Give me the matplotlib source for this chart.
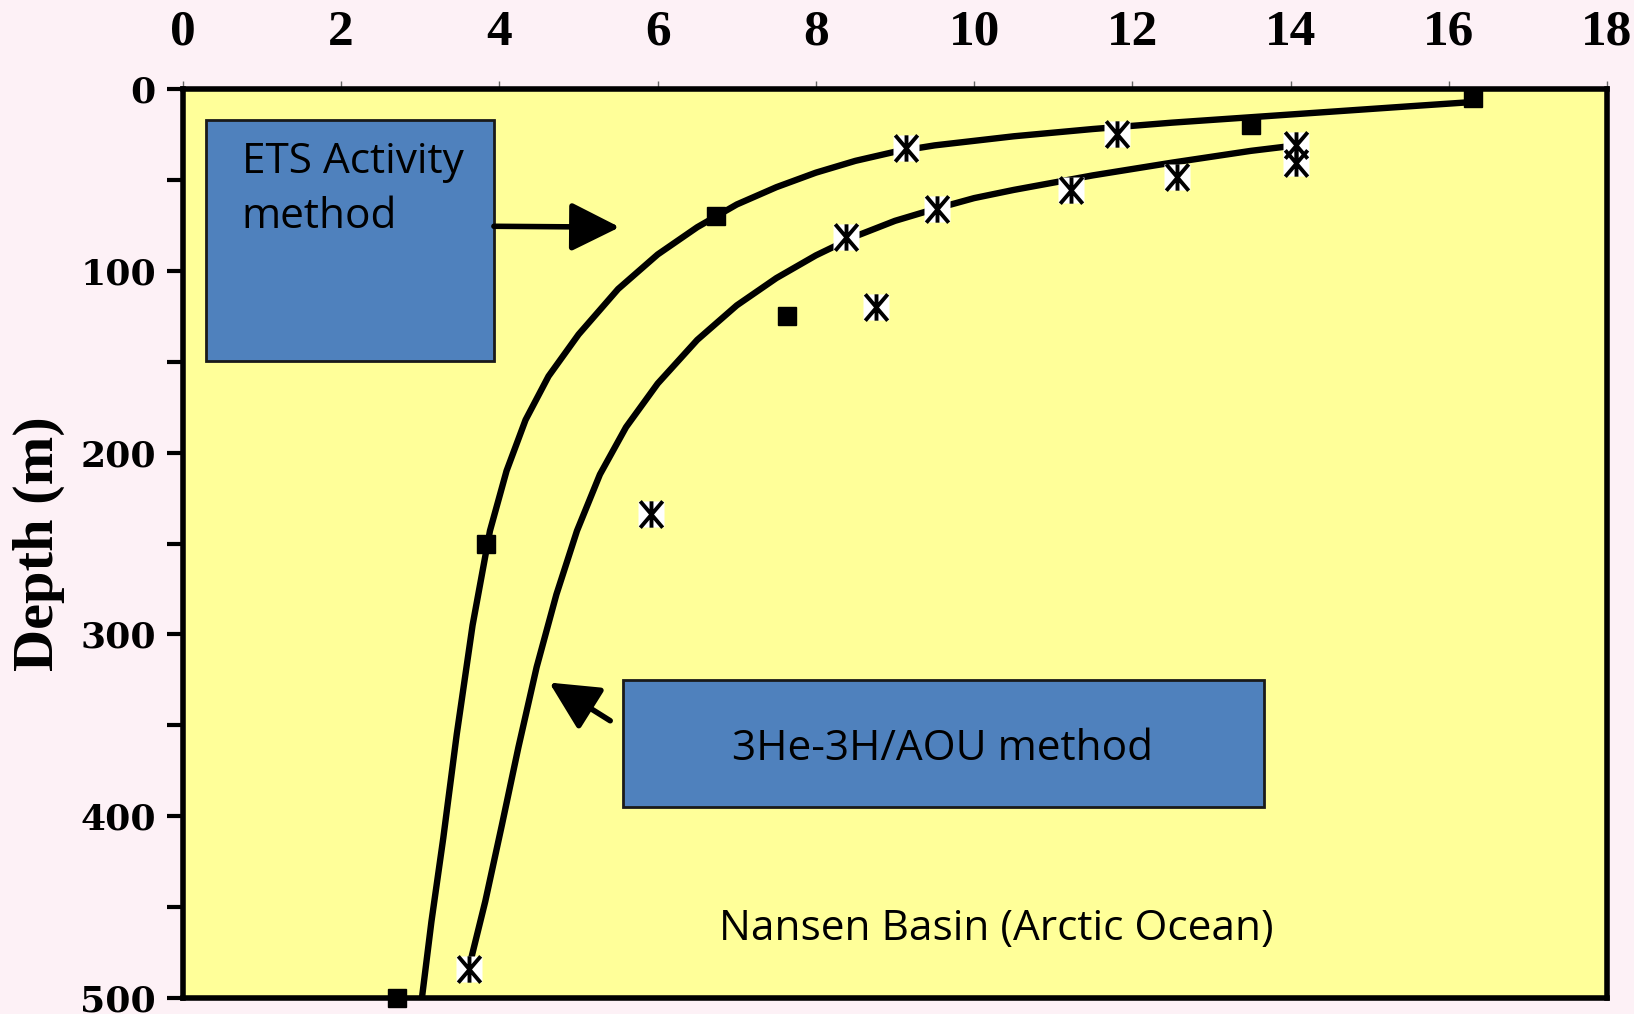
import numpy as np
import matplotlib
matplotlib.use("Agg")
import matplotlib.pyplot as plt
from matplotlib.path import Path
from matplotlib.patches import Rectangle
from matplotlib.ticker import MultipleLocator

# ETS activity method (squares)
ets_x = [16.3, 13.5, 6.74, 7.64, 3.83, 2.70]
ets_depth = [5, 20, 70, 125, 250, 500]

# 3He-3H/AOU method (asterisks)
he_x = [9.14, 11.81, 14.07, 14.07, 12.56, 11.23, 9.53, 8.38, 8.76, 5.91, 3.61]
he_depth = [32.5, 24.5, 31, 40.5, 48.5, 55.5, 66, 81.5, 120, 234, 484]

# fitted curves
ets_fit_x = [16.35, 15.5, 14.5, 13.5, 12.5, 11.5, 10.5, 9.5, 9.0, 8.5, 8.0,
             7.5, 7.0, 6.5, 6.0, 5.5, 5.0, 4.62, 4.33, 4.09, 3.88, 3.66, 3.46,
             3.29, 3.14, 3.02]
ets_fit_depth = [7, 9.5, 12.5, 15.5, 18.5, 22, 26, 31, 34.5, 39.5, 46,
                 54, 63.5, 76, 91, 110, 135, 158, 182, 210, 243, 295, 355,
                 412, 458, 500]

he_fit_x = [14.07, 13.5, 12.5, 11.5, 10.5, 10.0, 9.5, 9.0, 8.5, 8.0, 7.5,
            7.0, 6.5, 6.0, 5.6, 5.27, 4.98, 4.72, 4.47, 4.24, 4.03, 3.82, 3.61]
he_fit_depth = [31, 34, 40.5, 47.5, 55.5, 60, 66, 72.5, 81, 91.5, 104,
                119, 138, 162, 186, 212, 243, 278, 318, 362, 405, 447, 484]

x_ticks = [0, 2, 4, 6, 8, 10, 12, 14, 16, 18]
depth_ticks = [0, 100, 200, 300, 400, 500]

bg = '#FDF1F6'
yellow = '#FFFF99'
blue = '#4F81BD'

fig = plt.figure(figsize=(16.34, 10.14), dpi=100, facecolor=bg)
ax = fig.add_axes([0.112, 0.0158, 0.8715, 0.8964])
ax.set_facecolor(yellow)

# curves
ax.plot(ets_fit_x, ets_fit_depth, color='black', lw=4.6, zorder=2,
        solid_capstyle='butt', solid_joinstyle='round')
ax.plot(he_fit_x, he_fit_depth, color='black', lw=4.6, zorder=2,
        solid_capstyle='butt', solid_joinstyle='round')

# markers
ax.plot(ets_x, ets_depth, ls='none', marker='s', ms=13.5, color='black',
        zorder=4, clip_on=False)

star = Path([(-0.85, -1), (0.85, 1), (-0.85, 1), (0.85, -1), (0, -1), (0, 1)],
            [Path.MOVETO, Path.LINETO, Path.MOVETO, Path.LINETO,
             Path.MOVETO, Path.LINETO])
ax.plot(he_x, he_depth, ls='none', marker='s', ms=19, mfc='white',
        mec='none', zorder=4, clip_on=False)
ax.plot(he_x, he_depth, ls='none', marker=star, ms=19, mfc='none',
        mec='black', mew=2.8, zorder=5, clip_on=False)

# text boxes
ax.add_patch(Rectangle((0.29, 17.2), 3.64, 132.3, facecolor=blue,
                       edgecolor='#1a1a1a', lw=2, zorder=3))
ax.text(0.74, 28.5, 'ETS Activity\nmethod', fontsize=30.5, family='Open Sans',
        ha='left', va='top', linespacing=1.4, zorder=6)

ax.add_patch(Rectangle((5.56, 325.3), 8.1, 69.9, facecolor=blue,
                       edgecolor='#1a1a1a', lw=2, zorder=3))
ax.text(9.6, 363, '3He-3H/AOU method', fontsize=30.5, family='Open Sans',
        ha='center', va='center', zorder=6)

ax.text(10.28, 462, 'Nansen Basin (Arctic Ocean)', fontsize=30.5,
        family='Open Sans', ha='center', va='center', zorder=6)

# arrows
ax.annotate('', xy=(5.52, 76), xytext=(3.93, 75.5),
            arrowprops=dict(arrowstyle='-|>,head_length=1.0,head_width=0.5',
                            color='black', lw=4, mutation_scale=30,
                            shrinkA=0, shrinkB=0), zorder=6)
ax.annotate('', xy=(4.63, 326.5), xytext=(5.40, 347.5),
            arrowprops=dict(arrowstyle='-|>,head_length=1.0,head_width=0.5',
                            color='black', lw=4, mutation_scale=30,
                            shrinkA=0, shrinkB=0), zorder=6)

# axes
ax.set_xlim(0, 18)
ax.set_ylim(500, 0)
ax.xaxis.tick_top()
ax.set_xticks(x_ticks)
ax.set_xticklabels([str(t) for t in x_ticks], family='Liberation Serif',
                   fontweight='bold', fontsize=37)
ax.tick_params(axis='x', direction='out', length=6, width=1,
               color='#666666', pad=18)

ax.set_yticks(depth_ticks)
ax.yaxis.set_minor_locator(MultipleLocator(50))
ax.set_yticklabels([str(t) for t in depth_ticks], family='DejaVu Serif',
                   fontweight='bold', fontsize=26)
ax.tick_params(axis='y', which='both', direction='out', length=11.5,
               width=3, color='black', pad=8)

ax.set_ylabel('Depth (m)', family='Liberation Serif', fontweight='bold',
              fontsize=42)
ax.yaxis.set_label_coords(-0.083, 0.5)

for side in ['top', 'bottom', 'left', 'right']:
    ax.spines[side].set_linewidth(4)
    ax.spines[side].set_color('black')

fig.savefig('out.png', dpi=100, facecolor=bg)
